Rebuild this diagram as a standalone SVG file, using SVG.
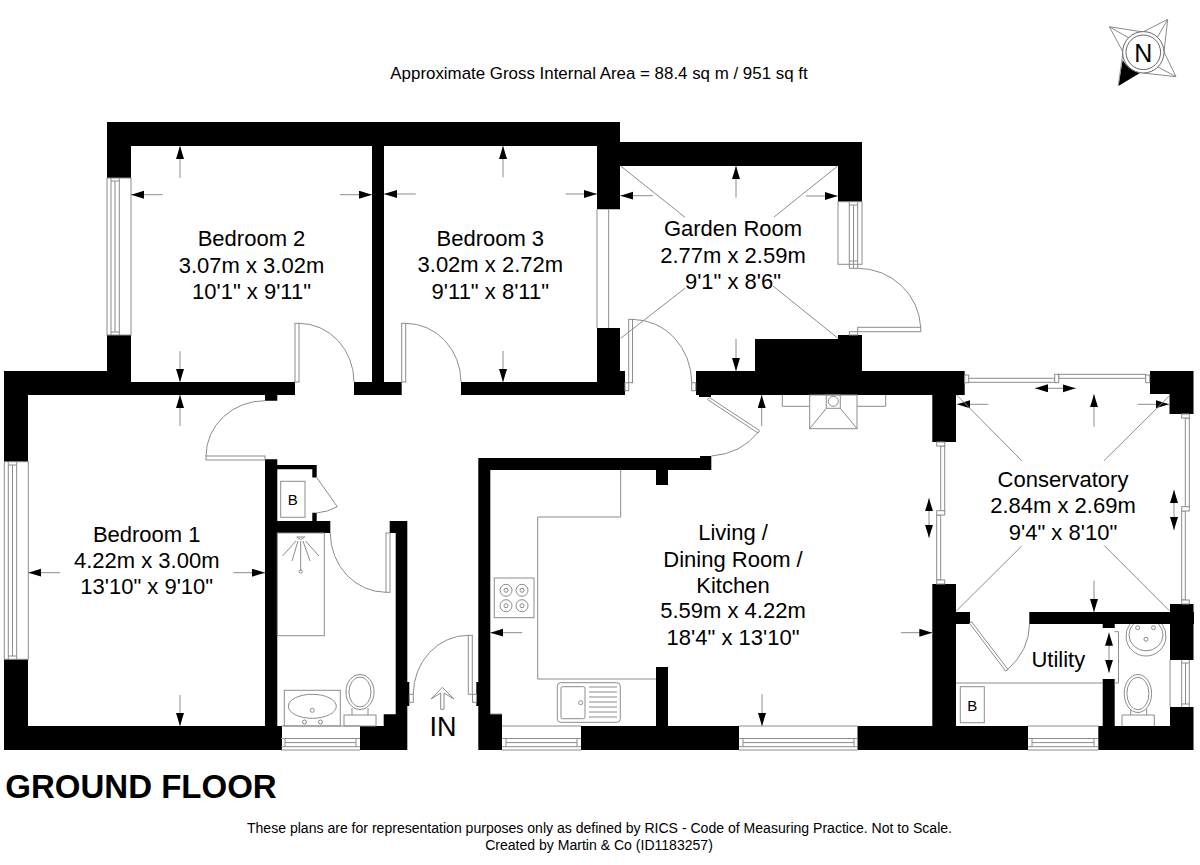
<svg xmlns="http://www.w3.org/2000/svg" width="1200" height="865" viewBox="0 0 1200 865">
<style>
text{font-family:"Liberation Sans",Arial,sans-serif;fill:#000;text-anchor:middle}
.r{font-size:22px}
.n{font-size:14.05px}
.w{fill:#000;stroke:none}
.l{fill:none;stroke:#8c8c8c;stroke-width:1}
.f{fill:#fff;stroke:#8c8c8c;stroke-width:1}
.d{fill:none;stroke:#8c8c8c;stroke-width:1}
.a{fill:none;stroke:#8c8c8c;stroke-width:1;marker-end:url(#ah)}
.b{fill:none;stroke:#8c8c8c;stroke-width:1;marker-end:url(#ah);marker-start:url(#ah)}
</style>
<defs>
<marker id="ah" markerUnits="userSpaceOnUse" markerWidth="14" markerHeight="9" refX="13" refY="4" orient="auto-start-reverse"><path d="M0 0L13 4L0 8z" fill="#000"/></marker>
</defs>
<rect width="1200" height="865" fill="#fff"/>

<g id="walls">
<path class="w" d="M107 122H620V146H107ZM107 146H131V178H107ZM107 335H131V382H107ZM4 371H131V382H4ZM4 382H295V395H4ZM4 371H28V461.7H4ZM4 659.3H28V726H4ZM4 726H282V750H4ZM265 395H277.3V400.7H265ZM265 459.3H277.3V726H265ZM277 465H316.7V469.3H277ZM312.3 465H316.7V477.5H312.3ZM312.3 512.7H316.7V521H312.3ZM265 521H330.3V533H265ZM389.7 521H407.3V533H389.7ZM395.7 533H407.3V726H395.7ZM383.7 714.3H407.3V726H383.7ZM360 726H407.3V750H360ZM407.3 682H409.3V706H407.3ZM372 146H384V382H372ZM354 382H401.7V395H354ZM461 382H625V395H461ZM597 146H620V209.3H597ZM597 328H620V382H597ZM620 371H625V382H620ZM597 142H862V166H597ZM838 166H862V201.7H838ZM838 335H862V371H838ZM755 339H838V371H755ZM696 371H964.7V395H696ZM699 395H711V397H699ZM932.3 395H956V442H932.3ZM478.3 458H711.3V470H478.3ZM700 456H711.3V458H700ZM478.3 470H490.3V714H478.3ZM476.3 682H478.3V706H476.3ZM478.3 714H502V750H478.3ZM581 726H739V750H581ZM656 667H668V726H656ZM656 470H668V485H656ZM857.5 726H956V750H857.5ZM932.3 584H956V726H932.3ZM932.3 612H970V624H932.3ZM1029.3 612H1194V624H1029.3ZM1150 371H1193.5V394H1150ZM1169.5 394H1193.5V414H1169.5ZM1170 604H1193.5V660H1170ZM1170 707H1193.5V750H1170ZM1098.3 726H1193.5V750H1098.3ZM956 726H1028V750H956ZM1102.7 624H1114.7V628H1102.7ZM1102.7 679H1114.7V726H1102.7Z"/>
</g>

<g id="windows">
<g id="window-bedroom2">
<rect class="l" x="107" y="178" width="24" height="157"/>
<path class="l" d="M111 178V335M119.3 178V335M115 181V332M111 181H119.3M111 332H119.3"/>
</g>
<g id="window-bedroom1">
<rect class="l" x="4.3" y="461.7" width="24" height="197.6"/>
<path class="l" d="M8.3 461.7V659.3M16.7 461.7V659.3M12.5 465V656M8.3 465H16.7M8.3 656H16.7"/>
</g>
<g id="window-bedroom3">
<path class="l" d="M597 209.3V328M608.7 209.3V328"/>
</g>
<g id="window-garden">
<rect class="l" x="838" y="201.7" width="24" height="62.6"/>
<path class="l" d="M849.3 201.7V268.3H857.7V201.7M853.5 205V268.3M849.3 205H857.7M849.3 261H857.7"/>
</g>
<g id="window-bath">
<path class="l" d="M281 726H360M281 750H360M281 738.5H360M281 746.7H360M285 742.6H356M285 738.5V746.7M356 738.5V746.7"/>
</g>
<g id="window-kitchen">
<path class="l" d="M502 726H581M502 750H581M502 738.5H581M502 746.7H581M506 742.6H577M506 738.5V746.7M577 738.5V746.7"/>
<path class="l" d="M490.3 714H502"/>
</g>
<g id="window-living">
<path class="l" d="M739 726H857.5M739 750H857.5M739 738.5H857.5M739 746.7H857.5M743 742.6H854M743 738.5V746.7M854 738.5V746.7"/>
</g>
<g id="window-utility">
<path class="l" d="M1028 726H1098.3M1028 750H1098.3M1028 738.5H1098.3M1028 746.7H1098.3M1032 742.6H1094M1032 738.5V746.7M1094 738.5V746.7"/>
</g>
<g id="window-wc">
<path class="l" d="M1170 660V707M1181.7 660V707M1189.3 660V707M1185.5 663V704M1181.7 663H1189.3M1181.7 704H1189.3"/>
</g>
<g id="window-conservatory-top">
<rect class="f" x="964.7" y="378.3" width="90" height="4"/>
<rect class="f" x="1058.7" y="374.3" width="87" height="4"/>
<rect class="f" x="964.7" y="375" width="4" height="7.7"/>
<rect class="f" x="1054.7" y="374.3" width="4" height="8.4"/>
<rect class="f" x="1145.7" y="375" width="4" height="7.7"/>
</g>
<g id="window-conservatory-left">
<rect class="f" x="940.7" y="446" width="4" height="65"/>
<rect class="f" x="936.7" y="515" width="4" height="65"/>
<rect class="f" x="936.7" y="442" width="8" height="4"/>
<rect class="f" x="936.7" y="510.7" width="8" height="4.3"/>
<rect class="f" x="936.7" y="580" width="8" height="4"/>
</g>
<g id="window-conservatory-right">
<rect class="f" x="1185.3" y="418" width="4" height="89"/>
<rect class="f" x="1181.7" y="511" width="3.6" height="89"/>
<rect class="f" x="1181.7" y="414" width="7.6" height="4"/>
<rect class="f" x="1181.7" y="506.7" width="7.6" height="4.3"/>
<rect class="f" x="1181.7" y="600" width="7.6" height="4"/>
</g>
</g>

<g id="doors">
<g id="door-bedroom2"><rect class="l" x="295" y="323.3" width="4" height="58.7"/><path class="l" d="M299 323.3A55 58.7 0 0 1 354 382"/></g>
<g id="door-bedroom3"><rect class="l" x="401.7" y="323.3" width="4" height="58.7"/><path class="l" d="M405.7 323.3A55.3 58.7 0 0 1 461 382"/></g>
<g id="door-bedroom1"><rect class="l" x="206" y="456" width="59" height="4"/><path class="l" d="M265 400.7A59 55.3 0 0 0 206 456"/></g>
<g id="door-cupboard"><path class="l" d="M316.7 477.5L337.3 506.7Q328 512 316.7 513"/></g>
<g id="door-bathroom"><rect class="l" x="386" y="533" width="4" height="59.3"/><path class="l" d="M330.3 533A55.7 59.3 0 0 0 386 592.3"/></g>
<g id="door-entrance">
<rect class="l" x="468.3" y="635.3" width="4" height="59"/>
<rect class="l" x="409.3" y="694.3" width="4" height="8"/>
<rect class="l" x="472.5" y="694.3" width="4" height="8"/>
<path class="l" d="M468.3 635.3A55 59 0 0 0 413.3 694.3"/>
</g>
<g id="door-garden-left">
<rect class="l" x="628.7" y="319.4" width="3.8" height="63.3"/>
<rect class="l" x="625" y="382.7" width="3.7" height="8"/>
<rect class="l" x="691.7" y="382.7" width="4" height="8"/>
<path class="l" d="M632.5 319.4A59.2 63.3 0 0 1 691.7 382.7"/>
</g>
<g id="door-garden-right">
<rect class="l" x="857.7" y="327.3" width="63" height="4.4"/>
<rect class="l" x="849.3" y="331.7" width="8.4" height="3.3"/>
<path class="l" d="M857.7 268.3A63 62 0 0 1 920.7 327.3"/>
</g>
<g id="door-living">
<path class="f" d="M709.3 397.5L759.5 430.5L758 433L707.5 399.5Z"/>
<path class="l" d="M758.7 431.7Q741 454 711.3 456"/>
</g>
<g id="door-utility">
<path class="f" d="M971.5 621.7L1008 669.5L1005.7 671L969.5 623.2Z"/>
<path class="l" d="M1007 670.3Q1029.5 650 1029.5 624"/>
</g>
<path class="l" d="M1114.5 631.7H1118.5V683H1114.5"/>
</g>

<g id="fireplace">
<path class="l" d="M782.3 395V406.3H809.7M857 406.3H885.7V395"/>
<rect class="l" x="809.7" y="395" width="47.3" height="33.7"/>
<rect class="l" x="826.3" y="395" width="14" height="13.3"/>
<circle class="l" cx="833.3" cy="401.3" r="5"/>
<path class="l" d="M826.3 408.3L809.7 428.7M840.3 408.3L857 428.7"/>
</g>

<g id="kitchen-fittings">
<path class="l" d="M620.7 470V517H537.7V679H656"/>
<rect class="l" x="494.3" y="578" width="39.7" height="39.7"/>
<g class="l">
<circle cx="506" cy="590.3" r="6"/><circle cx="506" cy="590.3" r="2"/>
<circle cx="522" cy="590.3" r="6"/><circle cx="522" cy="590.3" r="2"/>
<circle cx="506" cy="605.7" r="6"/><circle cx="506" cy="605.7" r="2"/>
<circle cx="522" cy="605.7" r="6"/><circle cx="522" cy="605.7" r="2"/>
</g>
<rect class="l" x="557.3" y="682.7" width="63" height="39.6" rx="3.5"/>
<rect class="l" x="561" y="686.7" width="24" height="32" rx="1.5"/>
<circle class="l" cx="580.7" cy="702.7" r="2"/>
<path class="l" d="M589 687H617M589 692H617M589 697H617M589 702H617M589 707H617M589 712H617M589 717H617"/>
</g>

<g id="bathroom-fittings">
<rect class="l" x="280.7" y="481.3" width="24.3" height="36"/>
<text x="292.8" y="505" font-size="15">B</text>
<rect class="l" x="277.3" y="533" width="47" height="102.7"/>
<path class="l" d="M296.5 537H305M297 537Q300.7 541.5 304.5 537M296 541L282.5 556M298 541L292 561M300.7 541V571M303 541L310 561M305.5 541L319 556"/>
<circle class="l" cx="300.7" cy="571.5" r="1.6"/>
<rect class="l" x="284.3" y="690.3" width="56" height="35.7"/>
<ellipse class="l" cx="312.3" cy="706.3" rx="24" ry="12"/>
<circle class="l" cx="312.3" cy="710.3" r="2"/><circle class="l" cx="304.5" cy="722" r="2"/><circle class="l" cx="320.5" cy="722" r="2"/>
<ellipse class="l" cx="360" cy="692" rx="14" ry="17.7"/>
<ellipse class="l" cx="360" cy="692" rx="11" ry="15"/>
<path class="l" d="M352 708V715M368 708V715"/>
<rect class="l" x="344" y="715" width="32" height="11"/>
</g>

<g id="utility-fittings">
<path class="l" d="M956 683H1102.7"/>
<rect class="l" x="960.3" y="686.7" width="24" height="36"/>
<text x="972.3" y="710.5" font-size="15">B</text>
<path class="l" d="M1130 624A20 20 0 1 0 1162 624"/>
<path class="l" d="M1133.5 624A17 16 0 1 0 1158.5 624"/>
<circle class="l" cx="1137.7" cy="627.7" r="2"/><circle class="l" cx="1153.5" cy="627.7" r="2"/><circle class="l" cx="1146" cy="639.3" r="2"/>
<ellipse class="l" cx="1137.9" cy="693.5" rx="13.7" ry="19"/>
<ellipse class="l" cx="1137.9" cy="693.5" rx="11" ry="16.3"/>
<path class="l" d="M1130.7 709V715M1146.7 709V715"/>
<path class="l" d="M1122 726V715H1154.3V726"/>
</g>

<g id="connectors">
<!-- Bedroom 2 -->
<path class="a" d="M180 177.7V146"/><path class="a" d="M162.7 194.7H131"/><path class="a" d="M340 194.7H372"/><path class="a" d="M180 351.3V382"/>
<!-- Bedroom 3 -->
<path class="a" d="M503 177.3V146"/><path class="a" d="M415.7 194H384"/><path class="a" d="M565.7 194H597"/><path class="a" d="M503 351V382"/>
<!-- Bedroom 1 -->
<path class="a" d="M180 426V395"/><path class="a" d="M60 572.7H28.3"/><path class="a" d="M233.3 572.7H265"/><path class="a" d="M180 695V726"/>
<!-- Garden room -->
<path class="a" d="M736 197.7V166"/><path class="a" d="M652.7 195.7H620.3"/><path class="a" d="M806 196H837.7"/><path class="a" d="M736 339V371"/>
<path class="d" d="M620.7 166L685 217.3M620.7 338.3L685 288.3M837.7 166L774 217M837.7 338L773 286"/>
<!-- Living -->
<path class="a" d="M761.7 426V395"/><path class="a" d="M522.3 632.7H490.3"/><path class="a" d="M901 632.7H932.3"/><path class="a" d="M762 694.3V726"/>
<!-- Conservatory -->
<path class="a" d="M988.3 404.3H957"/><path class="a" d="M1137.7 404.3H1169"/><path class="a" d="M1094 426.7V394.3"/><path class="a" d="M1094 580.7V612"/>
<path class="b" d="M1035 388.3H1075.7"/><path class="b" d="M929 498.3V537.7"/><path class="b" d="M1174 490V530"/>
<path class="d" d="M956.7 395L1021.7 460.7M1169.3 396L1104 460.7M956.7 610.7L1021.7 546M1169.3 610.7L1104 545.3"/>
<!-- Utility -->
<path class="b" d="M1109 632.7V672.7"/>
</g>

<g id="entrance">
<path class="l" d="M442.3 687.3L431 699M442.3 687.3L454 699M431 699L440.7 693V709.3H444V693L454 699"/>
<text x="443" y="736" font-size="27">IN</text>
</g>

<g id="labels">
<g id="label-bedroom2"><text class="r" x="251.5" y="246">Bedroom 2</text><text class="r" x="251.5" y="272.7">3.07m x 3.02m</text><text class="r" x="251.5" y="299">10'1" x 9'11"</text></g>
<g id="label-bedroom3"><text class="r" x="490.3" y="245.7">Bedroom 3</text><text class="r" x="490.3" y="272">3.02m x 2.72m</text><text class="r" x="490.3" y="298.5">9'11" x 8'11"</text></g>
<g id="label-garden"><text class="r" x="733" y="236">Garden Room</text><text class="r" x="733" y="262.7">2.77m x 2.59m</text><text class="r" x="733" y="289">9'1" x 8'6"</text></g>
<g id="label-bedroom1"><text class="r" x="146.7" y="541.7">Bedroom 1</text><text class="r" x="146.7" y="568.3">4.22m x 3.00m</text><text class="r" x="146.7" y="594.3">13'10" x 9'10"</text></g>
<g id="label-living"><text class="r" x="733" y="540">Living /</text><text class="r" x="733" y="566.7">Dining Room /</text><text class="r" x="733" y="592.7">Kitchen</text><text class="r" x="733" y="618.3">5.59m x 4.22m</text><text class="r" x="733" y="645">18'4" x 13'10"</text></g>
<g id="label-conservatory"><text class="r" x="1063" y="487.3">Conservatory</text><text class="r" x="1063" y="513.3">2.84m x 2.69m</text><text class="r" x="1063" y="540">9'4" x 8'10"</text></g>
<g id="label-utility"><text class="r" x="1058.3" y="667.3">Utility</text></g>
<text x="599" y="79" font-size="16.9">Approximate Gross Internal Area = 88.4 sq m / 951 sq ft</text>
<text x="141" y="798" font-size="33" font-weight="bold">GROUND FLOOR</text>
<text class="n" x="599.5" y="833">These plans are for representation purposes only as defined by RICS - Code of Measuring Practice. Not to Scale.</text>
<text class="n" x="599" y="850">Created by Martin &amp; Co (ID1183257)</text>
</g>

<g id="compass">
<path d="M1118.3 86L1122.7 60Q1128 70 1140 73Z" fill="#000"/>
<path class="l" d="M1109.3 26.7L1143 32M1109.3 26.7L1123 52M1109.3 26.7L1129 38M1167.7 19.3L1143 32M1167.7 19.3L1164 52M1167.7 19.3L1157 38M1176 76.7L1164 52M1176 76.7L1143 73M1176 76.7L1158 67M1118.3 86L1123 52"/>
<circle cx="1143.3" cy="52.3" r="20.7" fill="#fff" stroke="#666"/>
<circle cx="1143.3" cy="52.3" r="17.3" fill="none" stroke="#666"/>
<text x="1143.3" y="61.7" font-size="25">N</text>
</g>
</svg>
